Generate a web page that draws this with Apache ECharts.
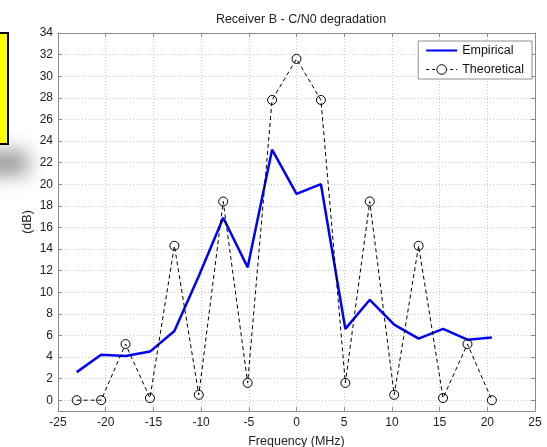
<!DOCTYPE html>
<html>
<head>
<meta charset="utf-8">
<title>Receiver B - C/N0 degradation</title>
<script src="https://cdn.jsdelivr.net/npm/echarts@6/dist/echarts.min.js"></script>
<style>
  html, body { margin: 0; padding: 0; background: #fff; }
  #chart { width: 547px; height: 447px; }
</style>
</head>
<body>
<div id="chart"></div>
<script>
// Frequency offsets of the measured/computed points (MHz)
const frequency = [-23.04, -20.48, -17.92, -15.36, -12.8, -10.24, -7.68, -5.12, -2.56,
                   0, 2.56, 5.12, 7.68, 10.24, 12.8, 15.36, 17.92, 20.48];
// C/N0 degradation, measured (dB)
const empirical = [2.6, 4.2, 4.1, 4.5, 6.4, 11.5, 16.9, 12.3, 23.2,
                   19.1, 20.0, 6.6, 9.3, 7.0, 5.7, 6.6, 5.6, 5.8];
// C/N0 degradation, predicted (dB)
const theoretical = [0, 0, 5.2, 0.2, 14.3, 0.5, 18.4, 1.6, 27.8,
                     31.6, 27.8, 1.6, 18.4, 0.5, 14.3, 0.2, 5.2, 0];
// Axis ticks
const xTicks = [-25, -20, -15, -10, -5, 0, 5, 10, 15, 20, 25];
const yTicks = [0, 2, 4, 6, 8, 10, 12, 14, 16, 18, 20, 22, 24, 26, 28, 30, 32, 34];

const FONT = '"Liberation Sans", Arial, Helvetica, sans-serif';
const frameColor = '#8a8a8a';
const gridStyle = { color: '#c8c8c8', type: [1, 2], width: 1 };

const pairs = (xs, ys) => xs.map((x, i) => [x, ys[i]]);

const chart = echarts.init(document.getElementById('chart'), null, { renderer: 'canvas' });

const xBase = {
  type: 'value',
  min: xTicks[0],
  max: xTicks[xTicks.length - 1],
  interval: xTicks[1] - xTicks[0],
  axisLine: { show: true, onZero: false, lineStyle: { color: frameColor, width: 1 } },
  axisTick: { show: true, inside: true, length: 4, lineStyle: { color: frameColor } }
};
const yBase = {
  type: 'value',
  min: -1,
  max: 34,
  axisLine: { show: true, onZero: false, lineStyle: { color: frameColor, width: 1 } },
  axisTick: { show: true, inside: true, length: 4, customValues: yTicks, lineStyle: { color: frameColor } }
};

chart.setOption({
  animation: false,
  backgroundColor: '#fff',
  title: {
    text: 'Receiver B - C/N0 degradation',
    left: 296,
    textAlign: 'center',
    top: 8,
    textStyle: { fontFamily: FONT, fontSize: 12.5, fontWeight: 'normal', color: '#222' }
  },
  grid: { left: 58, right: 12, top: 33, bottom: 36, outerBoundsMode: 'none', containLabel: false },
  legend: {
    data: [
      { name: 'Empirical', itemStyle: { opacity: 0 } },
      {
        name: 'Theoretical',
        lineStyle: { width: 1, type: [3, 3] },
        itemStyle: { color: '#fff', borderColor: '#000', borderWidth: 1 }
      }
    ],
    orient: 'vertical',
    right: 15,
    top: 41,
    backgroundColor: '#fff',
    borderColor: '#909090',
    borderWidth: 1,
    padding: [3, 8, 3, 7],
    itemWidth: 31,
    itemHeight: 12,
    itemGap: 6,
    textStyle: { fontFamily: FONT, fontSize: 12.5, color: '#111' }
  },
  xAxis: [
    Object.assign({}, xBase, {
      position: 'bottom',
      name: 'Frequency (MHz)',
      nameLocation: 'middle',
      nameGap: 24,
      nameMoveOverlap: false,
      nameTextStyle: { fontFamily: FONT, fontSize: 12.5, color: '#222' },
      axisLabel: { fontFamily: FONT, fontSize: 12, color: '#222', margin: 6 },
      splitLine: { show: true, lineStyle: gridStyle }
    }),
    Object.assign({}, xBase, {
      position: 'top',
      axisLabel: { show: false },
      splitLine: { show: false }
    })
  ],
  yAxis: [
    Object.assign({}, yBase, {
      position: 'left',
      name: '(dB)',
      nameLocation: 'middle',
      nameGap: 24,
      nameMoveOverlap: false,
      nameTextStyle: { fontFamily: FONT, fontSize: 12.5, color: '#222' },
      axisLabel: { fontFamily: FONT, fontSize: 12, color: '#222', margin: 5, customValues: yTicks },
      splitLine: { show: true, lineStyle: gridStyle }
    }),
    Object.assign({}, yBase, {
      position: 'right',
      axisLabel: { show: false, customValues: yTicks },
      splitLine: { show: false }
    })
  ],
  series: [
    {
      name: 'Empirical',
      type: 'line',
      xAxisIndex: 0,
      yAxisIndex: 0,
      data: pairs(frequency, empirical),
      showSymbol: false,
      symbol: 'none',
      lineStyle: { color: '#0000ff', width: 2.5 },
      itemStyle: { color: '#0000ff' },
      z: 2
    },
    {
      name: 'Theoretical',
      type: 'line',
      xAxisIndex: 0,
      yAxisIndex: 0,
      data: pairs(frequency, theoretical),
      symbol: 'circle',
      symbolSize: 9,
      lineStyle: { color: '#000', width: 1, type: [4, 3] },
      itemStyle: { color: 'rgba(255,255,255,0)', borderColor: '#000', borderWidth: 1 },
      z: 3
    }
  ],
  graphic: [
    {
      // soft drop shadow under the note box (shape kept off-canvas, shadow shifted in)
      type: 'rect',
      z: 1,
      shape: { x: -700, y: 152, width: 328, height: 22 },
      style: {
        fill: '#000',
        shadowColor: 'rgba(0,0,0,0.45)',
        shadowBlur: 20,
        shadowOffsetX: 400,
        shadowOffsetY: 0
      }
    },
    {
      // yellow note box at the left edge
      type: 'rect',
      z: 2,
      shape: { x: -40, y: 33, width: 48, height: 111 },
      style: { fill: '#ffff00', stroke: '#000', lineWidth: 2 }
    }
  ]
});
</script>
</body>
</html>
